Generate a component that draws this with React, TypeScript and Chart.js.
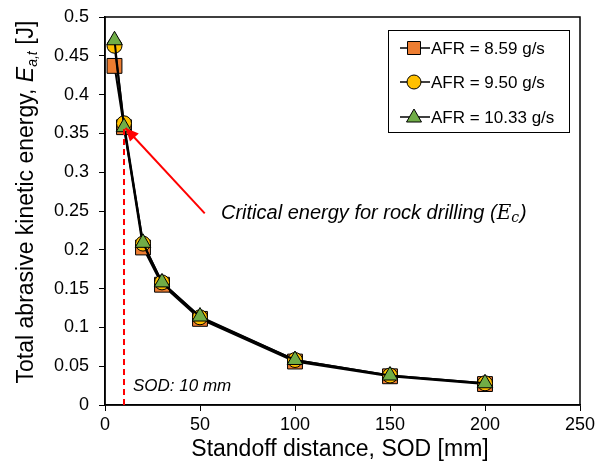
import React, { useEffect, useRef } from "react";
import { Chart, registerables } from "chart.js";

Chart.register(...registerables);

const sod = [5, 10, 20, 30, 50, 100, 150, 200];
const afr859 = [0.437, 0.358, 0.203, 0.155, 0.111, 0.056, 0.037, 0.027];
const afr950 = [0.463, 0.363, 0.208, 0.158, 0.113, 0.058, 0.038, 0.028];
const afr1033 = [0.47, 0.358, 0.209, 0.158, 0.114, 0.058, 0.038, 0.028];
const seriesLabels = ["AFR = 8.59 g/s", "AFR = 9.50 g/s", "AFR = 10.33 g/s"];
const criticalSod = 10;
const criticalEnergy = 0.358;

const FONT = "'Liberation Sans', Arial, sans-serif";

const overlay = {
  id: "overlay",
  afterDatasetsDraw(chart: any) {
    const { ctx, chartArea, scales } = chart;
    const xs = scales.x;
    const ys = scales.y;
    ctx.save();
    // border box
    ctx.strokeStyle = "#000";
    ctx.lineWidth = 1.5;
    ctx.strokeRect(chartArea.left, chartArea.top, chartArea.right - chartArea.left, chartArea.bottom - chartArea.top);

    // dashed red line
    ctx.strokeStyle = "#ff0000";
    ctx.lineWidth = 2;
    ctx.setLineDash([6, 4]);
    ctx.beginPath();
    ctx.moveTo(xs.getPixelForValue(criticalSod), ys.getPixelForValue(0));
    ctx.lineTo(xs.getPixelForValue(criticalSod), ys.getPixelForValue(criticalEnergy));
    ctx.stroke();
    ctx.setLineDash([]);

    // arrow
    const x1 = xs.getPixelForValue(52.5), y1 = ys.getPixelForValue(0.247);
    const x2 = xs.getPixelForValue(10.8), y2 = ys.getPixelForValue(0.357);
    ctx.lineWidth = 2;
    ctx.beginPath();
    ctx.moveTo(x1, y1);
    ctx.lineTo(x2, y2);
    ctx.stroke();
    const ang = Math.atan2(y2 - y1, x2 - x1);
    const L = 13, W = 6;
    ctx.fillStyle = "#ff0000";
    ctx.beginPath();
    ctx.moveTo(x2, y2);
    ctx.lineTo(x2 - L * Math.cos(ang) + W * Math.sin(ang), y2 - L * Math.sin(ang) - W * Math.cos(ang));
    ctx.lineTo(x2 - L * Math.cos(ang) - W * Math.sin(ang), y2 - L * Math.sin(ang) + W * Math.cos(ang));
    ctx.closePath();
    ctx.fill();

    // critical energy text
    ctx.fillStyle = "#000";
    ctx.textBaseline = "middle";
    ctx.textAlign = "left";
    let tx = 221;
    const ty = ys.getPixelForValue(0.247);
    ctx.font = `italic 20px ${FONT}`;
    const t1 = "Critical energy for rock drilling (";
    ctx.fillText(t1, tx, ty);
    tx += ctx.measureText(t1).width;
    ctx.font = `italic 20px 'DejaVu Serif', 'Liberation Serif', serif`;
    ctx.fillText("E", tx, ty);
    tx += ctx.measureText("E").width;
    ctx.font = `italic 14px 'DejaVu Serif', 'Liberation Serif', serif`;
    ctx.fillText("c", tx, ty + 5);
    tx += ctx.measureText("c").width + 1;
    ctx.font = `italic 20px ${FONT}`;
    ctx.fillText(")", tx, ty);

    // SOD text
    ctx.font = `italic 17px ${FONT}`;
    ctx.fillText("SOD: 10 mm", 133, ys.getPixelForValue(0.024));

    // legend
    const lx = 388, ly = 30, lw = 181, lh = 102;
    ctx.fillStyle = "#fff";
    ctx.fillRect(lx, ly, lw, lh);
    ctx.strokeStyle = "#000";
    ctx.lineWidth = 1;
    ctx.strokeRect(lx + 0.5, ly + 0.5, lw, lh);
    const ds = chart.data.datasets;
    const rowY = [48, 82, 117];
    for (let i = 0; i < 3; i++) {
      const d = ds[i];
      const cy = rowY[i];
      ctx.strokeStyle = "#000";
      ctx.lineWidth = 1.5;
      ctx.beginPath();
      ctx.moveTo(400, cy);
      ctx.lineTo(430, cy);
      ctx.stroke();
      const cx = 414;
      ctx.fillStyle = d.backgroundColor;
      ctx.lineWidth = 1;
      ctx.beginPath();
      if (d.pointStyle === "rect") {
        ctx.rect(cx - 6.5, cy - 6.5, 13, 13);
      } else if (d.pointStyle === "circle") {
        ctx.arc(cx, cy, 7, 0, Math.PI * 2);
      } else {
        ctx.moveTo(cx, cy - 8);
        ctx.lineTo(cx + 7.5, cy + 5);
        ctx.lineTo(cx - 7.5, cy + 5);
        ctx.closePath();
      }
      ctx.fill();
      ctx.stroke();
      ctx.fillStyle = "#000";
      ctx.font = `17px ${FONT}`;
      ctx.textAlign = "left";
      ctx.textBaseline = "middle";
      ctx.fillText(d.label, 431, cy + 1);
    }

    // y title
    ctx.save();
    ctx.translate(27, 202);
    ctx.rotate(-Math.PI / 2);
    const parts: [string, string, number][] = [
      ["Total abrasive kinetic energy, ", `23px ${FONT}`, 0],
      ["E", `italic 23px ${FONT}`, 0],
      ["a,t", `italic 14px ${FONT}`, 6],
      [" [J]", `23px ${FONT}`, 0],
    ];
    let total = 0;
    for (const p of parts) { ctx.font = p[1]; total += ctx.measureText(p[0]).width; }
    let px = -total / 2;
    ctx.fillStyle = "#000";
    ctx.textBaseline = "middle";
    ctx.textAlign = "left";
    for (const p of parts) {
      ctx.font = p[1];
      ctx.fillText(p[0], px, p[2]);
      px += ctx.measureText(p[0]).width;
    }
    ctx.restore();

    // x title
    ctx.font = `23px ${FONT}`;
    ctx.fillStyle = "#000";
    ctx.textAlign = "center";
    ctx.textBaseline = "middle";
    ctx.fillText("Standoff distance, SOD [mm]", 340, 450);
    ctx.restore();
  },
};

export default function App() {
  const ref = useRef<HTMLCanvasElement>(null);
  useEffect(() => {
    if (!ref.current) return;
    const mk = (label: string, data: number[], color: string, style: string, order: number, r: number) => ({
      label,
      data: sod.map((x, i) => ({ x, y: data[i] })),
      borderColor: "#000",
      backgroundColor: color,
      pointBackgroundColor: color,
      pointBorderColor: "#000",
      pointBorderWidth: 1,
      pointStyle: style,
      pointRadius: r,
      borderWidth: 2,
      order,
      showLine: true,
    });
    const chart = new Chart(ref.current, {
      type: "scatter",
      data: {
        datasets: [
          mk(seriesLabels[0], afr859, "#ED7D31", "rect", 2, 10.5),
          mk(seriesLabels[1], afr950, "#FFC000", "circle", 1, 7.5),
          mk(seriesLabels[2], afr1033, "#70AD47", "triangle", 0, 9),
        ] as any,
      },
      options: {
        animation: false,
        responsive: false,
        maintainAspectRatio: false,
        layout: { padding: { left: 0, top: 17, right: 31, bottom: 0 } },
        plugins: { legend: { display: false }, tooltip: { enabled: false } },
        scales: {
          x: {
            type: "linear",
            min: 0,
            max: 250,
            ticks: { stepSize: 50, color: "#000", font: { family: FONT, size: 18 }, padding: 3 },
            grid: { drawOnChartArea: false, drawTicks: true, tickLength: 6, color: "#000" },
            border: { color: "#000", width: 1.5 },
            afterFit: (s: any) => { s.height = 67; },
          },
          y: {
            type: "linear",
            min: 0,
            max: 0.5,
            ticks: {
              stepSize: 0.05,
              color: "#000",
              font: { family: FONT, size: 18 },
              padding: 10,
              callback: (v: any) => String(+Number(v).toFixed(2)),
            },
            grid: { drawOnChartArea: false, drawTicks: true, tickLength: 6, color: "#000" },
            border: { color: "#000", width: 1.5 },
            afterFit: (s: any) => { s.width = 105; s.paddingTop = 0; },
          },
        },
      } as any,
      plugins: [overlay],
    });
    return () => chart.destroy();
  }, []);
  return (
    <div style={{ position: "fixed", left: 0, top: 0, width: 611, height: 472, background: "#fff" }}>
      <canvas ref={ref} width={611} height={472} style={{ width: 611, height: 472 }} />
    </div>
  );
}
